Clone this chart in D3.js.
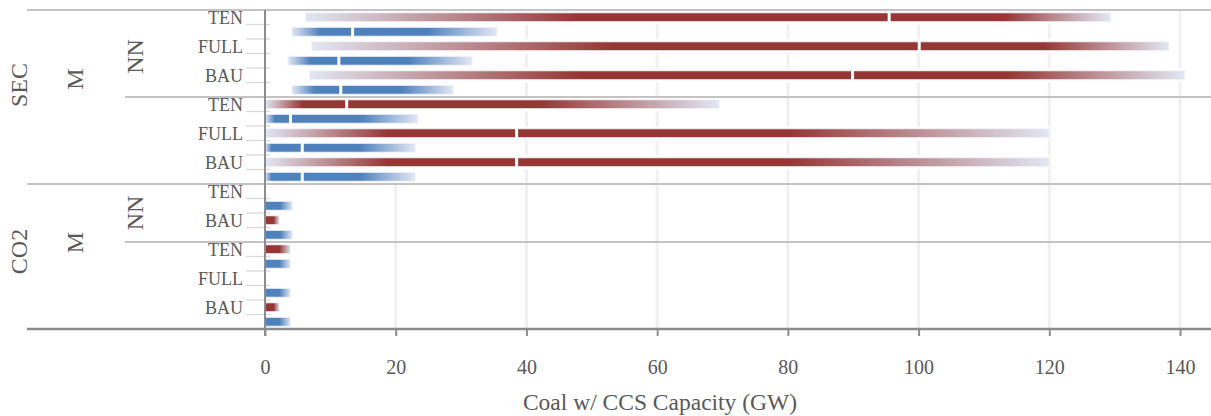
<!DOCTYPE html>
<html>
<head>
<meta charset="utf-8">
<script src="https://cdn.jsdelivr.net/npm/d3@7"></script>
<style>
  html, body { margin: 0; padding: 0; background: #fff; }
  svg { display: block; }
  text { font-family: "Liberation Serif", "DejaVu Serif", serif; fill: #595959; }
</style>
</head>
<body>
<svg id="chart" width="1211" height="416"></svg>
<script>
// ---------- data ----------
const rowLevel1 = ["SEC","SEC","SEC","SEC","SEC","SEC","CO2","CO2","CO2","CO2","CO2"];
const rowLevel2 = ["M","M","M","M","M","M","M","M","M","M","M"];
const rowLevel3 = ["NN","NN","NN","","","","NN","NN","","",""];
const categories = ["TEN","FULL","BAU","TEN","FULL","BAU","TEN","BAU","TEN","FULL","BAU"];

// red series: min, lower dark edge, median, upper dark edge, max (GW)
const redMin  = [6.2, 7.1, 6.8, 0, 0, 0, null, 0, 0, null, 0];
const redLow  = [48, 53, 48, 5.8, 18.8, 18.8, null, 0, 0, null, 0];
const redMed  = [95.5, 100.1, 89.9, 12.5, 38.5, 38.5, null, null, null, null, null];
const redHigh = [113.2, 119.3, 113.7, 42.3, 80, 80, null, 1.3, 2.2, null, 1.3];
const redMax  = [129.4, 138.3, 140.7, 69.5, 120, 120, null, 2.2, 3.9, null, 2.2];

// blue series
const blueMin  = [4.1, 3.5, 4.1, 0, 0, 0, 0, 0, 0, 0, 0];
const blueLow  = [8.4, 6.9, 7.6, 1.5, 1.0, 1.0, 0, 0, 0, 0, 0];
const blueMed  = [13.4, 11.3, 11.6, 3.9, 5.7, 5.7, null, null, null, null, null];
const blueHigh = [24.9, 21.9, 21.0, 14.8, 14.5, 14.5, 2.3, 2.3, 2.2, 2.2, 2.2];
const blueMax  = [35.5, 31.7, 28.8, 23.4, 23.0, 23.0, 4.2, 4.2, 3.9, 3.9, 3.9];

const xTicks = [0, 20, 40, 60, 80, 100, 120, 140];
const xTitle = "Coal w/ CCS Capacity (GW)";

// ---------- layout ----------
const W = 1211;
const svg = d3.select("#chart");
const plotLeft = 265, plotTop = 10, plotBottom = 329;

const x = d3.scaleLinear().domain([0, 140]).range([plotLeft, 1180]);
const rowIds = categories.map((c, i) => i);
const y = d3.scaleBand().domain(rowIds).range([plotTop, plotBottom]).padding(0);
const sub = d3.scaleBand().domain(["red", "blue"]).range([0, y.bandwidth()]).padding(0);
const barH = 9;

const colors = { red: "#953735", blue: "#4f81bd" };
const lightEnd = "#e2e7f4";

const series = [
  { key: "red",  min: redMin,  low: redLow,  med: redMed,  high: redHigh,  max: redMax },
  { key: "blue", min: blueMin, low: blueLow, med: blueMed, high: blueHigh, max: blueMax }
];

const bars = [];
series.forEach(s => {
  rowIds.forEach(i => {
    if (s.max[i] == null) return;
    bars.push({ key: s.key, row: i, min: s.min[i], low: s.low[i], med: s.med[i], high: s.high[i], max: s.max[i] });
  });
});

// grid
svg.append("g").selectAll("line").data(xTicks.filter(d => d > 0)).join("line")
  .attr("x1", d => x(d)).attr("x2", d => x(d))
  .attr("y1", plotTop).attr("y2", plotBottom)
  .attr("stroke", "#f0f0f0").attr("stroke-width", 3);

// gradients
const defs = svg.append("defs");
bars.forEach((b, k) => {
  const span = b.max - b.min;
  const g = defs.append("linearGradient").attr("id", "g" + k)
    .attr("gradientUnits", "userSpaceOnUse")
    .attr("x1", x(b.min)).attr("x2", x(b.max)).attr("y1", 0).attr("y2", 0);
  const c = colors[b.key];
  const stops = [
    [0, b.low > b.min ? lightEnd : c],
    [(b.low - b.min) / span, c],
    [(b.high - b.min) / span, c],
    [1, lightEnd]
  ];
  stops.forEach(([o, col]) => g.append("stop").attr("offset", o).attr("stop-color", col));
});

// white backing band (hides grid behind bars)
svg.append("g").selectAll("rect").data(bars).join("rect")
  .attr("x", d => x(d.min)).attr("width", d => x(d.max) - x(d.min))
  .attr("y", d => y(d.row) + sub(d.key)).attr("height", sub.bandwidth())
  .attr("fill", "#fff");

// bars
svg.append("g").selectAll("rect").data(bars).join("rect")
  .attr("x", d => x(d.min)).attr("width", d => x(d.max) - x(d.min))
  .attr("y", d => y(d.row) + sub(d.key) + (sub.bandwidth() - barH) / 2)
  .attr("height", barH)
  .attr("fill", (d, k) => `url(#g${k})`)
  .attr("stroke", "#f4f4fa").attr("stroke-width", 1);

// median gaps
svg.append("g").selectAll("rect").data(bars.filter(d => d.med != null)).join("rect")
  .attr("x", d => x(d.med) - 1.5).attr("width", 3)
  .attr("y", d => y(d.row) + sub(d.key) + (sub.bandwidth() - barH) / 2 - 1)
  .attr("height", barH + 2)
  .attr("fill", "#fff");

// y sub-band ticks
const tickYs = [];
rowIds.forEach(i => {
  tickYs.push(y(i) + sub.bandwidth());
  if (i < rowIds.length - 1) {
    const boundaryIsGroup = rowLevel1[i] !== rowLevel1[i + 1] || rowLevel3[i] !== rowLevel3[i + 1];
    if (!boundaryIsGroup) tickYs.push(y(i) + y.bandwidth());
  }
});
svg.append("g").selectAll("line").data(tickYs).join("line")
  .attr("x1", 246).attr("x2", 270).attr("y1", d => d).attr("y2", d => d)
  .attr("stroke", "#d9d9d9").attr("stroke-width", 1.3);

// horizontal group lines
const hLines = [{ y: plotTop, x1: 27, c: "#c3c3c3" }];
rowIds.forEach(i => {
  if (i === rowIds.length - 1) return;
  const yy = y(i) + y.bandwidth();
  if (rowLevel1[i] !== rowLevel1[i + 1]) hLines.push({ y: yy, x1: 27, c: "#c3c3c3" });
  else if (rowLevel3[i] !== rowLevel3[i + 1]) hLines.push({ y: yy, x1: 125, c: "#c3c3c3" });
});
svg.append("g").selectAll("line").data(hLines).join("line")
  .attr("x1", d => d.x1).attr("x2", W).attr("y1", d => d.y).attr("y2", d => d.y)
  .attr("stroke", d => d.c).attr("stroke-width", 2);

// bottom axis
const xAxis = d3.axisBottom(x).tickValues(xTicks).tickSize(7).tickPadding(24).tickFormat(d3.format("d"));
const gx = svg.append("g").attr("transform", `translate(0,${plotBottom})`).call(xAxis);
gx.select(".domain").remove();
gx.selectAll(".tick line").attr("stroke", "#8c8c8c").attr("stroke-width", 2);
gx.selectAll(".tick text").attr("font-size", 20).attr("fill", "#595959")
  .attr("font-family", "Liberation Serif");
svg.append("line").attr("x1", 27).attr("x2", W).attr("y1", plotBottom).attr("y2", plotBottom)
  .attr("stroke", "#8c8c8c").attr("stroke-width", 2.5);

// vertical axis line
svg.append("line").attr("x1", plotLeft).attr("x2", plotLeft).attr("y1", plotTop).attr("y2", plotBottom + 7)
  .attr("stroke", "#8c8c8c").attr("stroke-width", 2);

// category labels
svg.append("g").selectAll("text").data(rowIds).join("text")
  .attr("x", 243).attr("y", i => y(i) + sub("red") + sub.bandwidth() / 2)
  .attr("dy", "0.36em").attr("text-anchor", "end").attr("font-size", 18)
  .text(i => categories[i]);

// group labels
function groups(keyFn) {
  const out = [];
  rowIds.forEach(i => {
    const k = keyFn(i);
    const last = out[out.length - 1];
    if (last && last.key === k) last.end = i;
    else out.push({ key: k, start: i, end: i, label: null });
  });
  return out;
}
const g1 = groups(i => rowLevel1[i]).map(g => ({ ...g, label: rowLevel1[g.start] }));
const g2 = groups(i => rowLevel1[i] + "|" + rowLevel2[i]).map(g => ({ ...g, label: rowLevel2[g.start] }));
const g3 = groups(i => rowLevel1[i] + "|" + rowLevel2[i] + "|" + rowLevel3[i]).map(g => ({ ...g, label: rowLevel3[g.start] })).filter(g => g.label);

const levelShift = { 1: [-12, -5], 2: [-18, -14], 3: [3, 0] };
function drawGroup(list, cx, level) {
  svg.append("g").selectAll("text").data(list).join("text")
    .attr("transform", (g, j) => {
      const cy = (y(g.start) + y(g.end) + y.bandwidth()) / 2 + (levelShift[level][j] || 0);
      return `translate(${cx},${cy}) rotate(-90)`;
    })
    .attr("text-anchor", "middle").attr("dy", "0.35em").attr("font-size", 24)
    .text(g => g.label);
}
drawGroup(g1, 19, 1);
drawGroup(g2, 75, 2);
drawGroup(g3, 135, 3);

// x title
svg.append("text").attr("x", 660).attr("y", 410).attr("text-anchor", "middle")
  .attr("font-size", 23.5).text(xTitle);
</script>
</body>
</html>
